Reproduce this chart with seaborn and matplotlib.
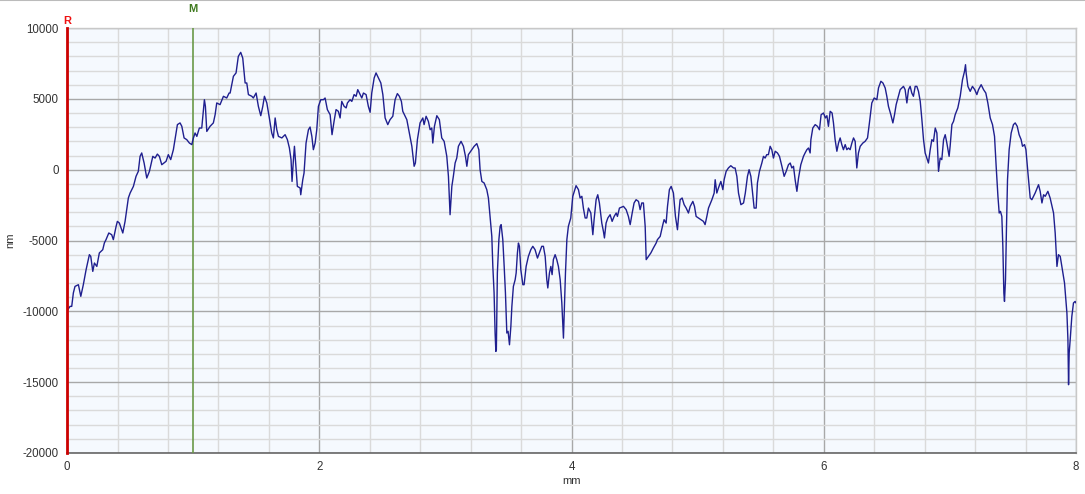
import matplotlib
matplotlib.use("Agg")
import matplotlib.pyplot as plt
from matplotlib.ticker import MultipleLocator
import numpy as np
import pandas as pd
import seaborn as sns

# profile position (mm) and height (nm)
position_mm = [
    0.000, 0.024, 0.037, 0.050, 0.063, 0.090, 0.109, 0.129, 0.151, 0.177, 0.188, 0.204, 0.217, 0.236,
    0.256, 0.283, 0.296, 0.309, 0.331, 0.354, 0.367, 0.389, 0.399, 0.415, 0.442, 0.460, 0.486, 0.500,
    0.526, 0.547, 0.565, 0.579, 0.592, 0.611, 0.632, 0.653, 0.680, 0.698, 0.716, 0.732, 0.751, 0.785,
    0.803, 0.822, 0.843, 0.856, 0.875, 0.896, 0.910, 0.928, 0.949, 0.970, 0.989, 1.002, 1.015, 1.029,
    1.049, 1.068, 1.089, 1.097, 1.108, 1.134, 1.160, 1.174, 1.187, 1.213, 1.240, 1.266, 1.285, 1.293,
    1.319, 1.340, 1.358, 1.377, 1.393, 1.412, 1.425, 1.438, 1.465, 1.477, 1.499, 1.517, 1.536, 1.552,
    1.565, 1.584, 1.604, 1.623, 1.636, 1.650, 1.663, 1.676, 1.703, 1.729, 1.747, 1.763, 1.776, 1.784,
    1.795, 1.803, 1.816, 1.826, 1.848, 1.853, 1.869, 1.879, 1.895, 1.914, 1.927, 1.941, 1.953, 1.967,
    1.980, 1.993, 2.012, 2.033, 2.046, 2.064, 2.086, 2.101, 2.117, 2.133, 2.151, 2.165, 2.178, 2.197,
    2.213, 2.223, 2.244, 2.258, 2.276, 2.292, 2.305, 2.324, 2.337, 2.350, 2.371, 2.389, 2.403, 2.416,
    2.435, 2.450, 2.469, 2.488, 2.504, 2.522, 2.543, 2.561, 2.583, 2.601, 2.619, 2.635, 2.651, 2.662,
    2.694, 2.714, 2.734, 2.752, 2.762, 2.778, 2.799, 2.821, 2.831, 2.847, 2.865, 2.879, 2.892, 2.900,
    2.913, 2.932, 2.952, 2.971, 2.990, 3.011, 3.024, 3.037, 3.051, 3.063, 3.077, 3.090, 3.103, 3.124,
    3.143, 3.159, 3.170, 3.182, 3.209, 3.228, 3.249, 3.265, 3.275, 3.289, 3.307, 3.328, 3.341, 3.354,
    3.368, 3.376, 3.386, 3.394, 3.400, 3.404, 3.412, 3.424, 3.434, 3.442, 3.455, 3.466, 3.476, 3.487,
    3.497, 3.508, 3.519, 3.527, 3.539, 3.553, 3.561, 3.571, 3.579, 3.587, 3.598, 3.614, 3.624, 3.640,
    3.658, 3.677, 3.693, 3.711, 3.730, 3.745, 3.764, 3.777, 3.791, 3.804, 3.812, 3.825, 3.836, 3.846,
    3.856, 3.870, 3.883, 3.896, 3.910, 3.923, 3.936, 3.944, 3.952, 3.963, 3.975, 3.994, 4.010, 4.036,
    4.055, 4.068, 4.082, 4.094, 4.108, 4.121, 4.134, 4.153, 4.169, 4.179, 4.195, 4.208, 4.221, 4.240,
    4.253, 4.261, 4.274, 4.288, 4.306, 4.322, 4.338, 4.354, 4.364, 4.380, 4.412, 4.433, 4.451, 4.465,
    4.481, 4.496, 4.512, 4.531, 4.544, 4.557, 4.570, 4.584, 4.592, 4.610, 4.629, 4.649, 4.671, 4.681,
    4.703, 4.724, 4.734, 4.750, 4.761, 4.776, 4.790, 4.808, 4.824, 4.840, 4.851, 4.861, 4.877, 4.893,
    4.909, 4.927, 4.941, 4.962, 4.975, 4.988, 5.006, 5.025, 5.046, 5.059, 5.073, 5.086, 5.113, 5.131,
    5.139, 5.152, 5.165, 5.184, 5.200, 5.210, 5.226, 5.244, 5.263, 5.284, 5.297, 5.311, 5.324, 5.343,
    5.364, 5.378, 5.395, 5.408, 5.422, 5.438, 5.448, 5.464, 5.474, 5.490, 5.509, 5.522, 5.535, 5.548,
    5.561, 5.575, 5.588, 5.601, 5.615, 5.633, 5.649, 5.668, 5.686, 5.702, 5.720, 5.734, 5.747, 5.760,
    5.773, 5.787, 5.800, 5.818, 5.839, 5.852, 5.866, 5.879, 5.892, 5.898, 5.913, 5.932, 5.950, 5.966,
    5.979, 5.998, 6.013, 6.025, 6.037, 6.051, 6.066, 6.077, 6.090, 6.104, 6.117, 6.130, 6.143, 6.156,
    6.170, 6.183, 6.196, 6.209, 6.223, 6.236, 6.249, 6.262, 6.275, 6.289, 6.310, 6.328, 6.347, 6.362,
    6.381, 6.400, 6.421, 6.434, 6.453, 6.469, 6.487, 6.500, 6.513, 6.532, 6.548, 6.561, 6.574, 6.592,
    6.606, 6.619, 6.632, 6.645, 6.659, 6.672, 6.685, 6.698, 6.711, 6.725, 6.738, 6.751, 6.765, 6.778,
    6.791, 6.804, 6.817, 6.830, 6.844, 6.857, 6.870, 6.884, 6.897, 6.910, 6.923, 6.936, 6.950, 6.963,
    6.976, 6.994, 7.002, 7.016, 7.029, 7.042, 7.063, 7.082, 7.100, 7.116, 7.124, 7.129, 7.143, 7.161,
    7.179, 7.197, 7.214, 7.227, 7.248, 7.267, 7.285, 7.301, 7.320, 7.338, 7.354, 7.367, 7.381, 7.391,
    7.401, 7.412, 7.420, 7.428, 7.433, 7.441, 7.449, 7.457, 7.470, 7.486, 7.504, 7.518, 7.534, 7.549,
    7.565, 7.576, 7.592, 7.603, 7.619, 7.637, 7.650, 7.676, 7.703, 7.716, 7.730, 7.743, 7.756, 7.777,
    7.795, 7.822, 7.835, 7.849, 7.861, 7.875, 7.888, 7.909, 7.928, 7.936, 7.941, 7.946, 7.954, 7.967,
    7.980, 7.993, 8.000,
]
height_nm = [
    -9950, -9650, -9650, -8700, -8240, -8120, -8940, -8120, -7060, -6000, -6120, -7180, -6590, -6830,
    -5880, -5650, -5170, -4940, -4470, -4590, -4940, -4000, -3650, -3770, -4470, -3650, -2000, -1650,
    -1180, -470, -120, 940, 1180, 470, -590, -120, 940, 820, 1100, 940, 350, 590,
    1060, 710, 1410, 2120, 3180, 3300, 3060, 2240, 2120, 1880, 1770, 2240, 2590, 2350,
    2940, 2940, 4940, 4470, 2700, 3060, 3300, 3880, 4710, 4590, 5180, 5060, 5410, 5410,
    6590, 6830, 8000, 8280, 7880, 6120, 6120, 5300, 5180, 5060, 5410, 4470, 3810, 4470,
    5180, 4710, 3650, 2590, 2240, 3650, 2820, 2350, 2240, 2470, 2120, 1530, 710, -830,
    710, 1650, 0, -1180, -1290, -1770, -710, -240, 1880, 2820, 3010, 2350, 1410, 1880,
    2820, 4470, 4940, 4940, 5060, 4240, 3880, 2470, 3410, 4240, 4120, 3650, 4820, 4470,
    4360, 4710, 4940, 4820, 5300, 5180, 5650, 5300, 5060, 5410, 5300, 4470, 4050, 5410,
    6470, 6830, 6470, 6120, 5300, 3650, 3180, 3530, 3770, 4940, 5370, 5180, 4820, 4120,
    3530, 2590, 1650, 240, 470, 2120, 3300, 3650, 3180, 3770, 3410, 2820, 2940, 1880,
    3060, 3810, 3530, 2240, 2000, 940, -470, -3180, -1180, -470, 470, 820, 1650, 2000,
    1650, 940, 240, 1060, 1410, 1650, 1840, 1410, 0, -830, -940, -1410, -2000, -3300,
    -4710, -6830, -8700, -11530, -12830, -12710, -7290, -4940, -4000, -3880, -4940, -6830, -8700, -11530,
    -11410, -12360, -11060, -9650, -8240, -7770, -7290, -5880, -5180, -5410, -7060, -8120, -8120, -6830,
    -6120, -5650, -5410, -5650, -6240, -5880, -5410, -5410, -6120, -7770, -8350, -7290, -6830, -7410,
    -6350, -6000, -6350, -6830, -7770, -9410, -11890, -9650, -7290, -4940, -4000, -3410, -1880, -1130,
    -1410, -2000, -1880, -2710, -3410, -3410, -2710, -3060, -4590, -3530, -2120, -1770, -2350, -3770,
    -4360, -4820, -3770, -3410, -3180, -3650, -3300, -3060, -3300, -2710, -2590, -2820, -3300, -3880,
    -3060, -2350, -2120, -2240, -2820, -2350, -2350, -4000, -6350, -6120, -5880, -5530, -5180, -4940,
    -4710, -3880, -3530, -3770, -2590, -1410, -1180, -1650, -3300, -4240, -3060, -2120, -2000, -2470,
    -2710, -3060, -2590, -2240, -2590, -3300, -3410, -3530, -3650, -3880, -3300, -2710, -2120, -1650,
    -710, -1650, -1290, -830, -1410, -710, -120, 120, 280, 120, 120, -470, -1650, -2470,
    -2350, -1650, -470, 0, -470, -1880, -2710, -2710, -940, -120, 470, 940, 820, 1060,
    1060, 1650, 1410, 820, 1300, 1180, 940, 240, -470, -120, 350, 470, 120, 240,
    -710, -1530, -590, 350, 940, 1180, 1410, 1530, 1180, 2120, 2940, 3180, 3060, 2820,
    3880, 4000, 3650, 3810, 3060, 4120, 4000, 3300, 2120, 1300, 1880, 2240, 1770, 1410,
    1770, 1410, 1530, 1410, 1880, 2240, 2000, 120, 1180, 1650, 1880, 2000, 2240, 3300,
    4710, 5060, 4940, 5770, 6240, 6120, 5770, 5180, 4470, 3880, 3300, 3880, 4590, 5180,
    5650, 5770, 5880, 5650, 4710, 5650, 5880, 5410, 5180, 5880, 5880, 5530, 4820, 3530,
    2120, 1180, 820, 470, 1410, 2120, 2000, 2940, 2590, -120, 820, 710, 2120, 2470,
    1880, 940, 1650, 3180, 3410, 3880, 4360, 5180, 6350, 6940, 7410, 6830, 5880, 5530,
    5880, 5650, 5300, 5650, 6000, 5650, 5410, 4710, 3650, 3180, 2350, 240, -1880, -3060,
    -2940, -3300, -5410, -8700, -9300, -7770, -4000, -710, 1410, 2590, 3180, 3300, 3060, 2470,
    2120, 1650, 1770, 1410, -240, -2000, -2120, -1650, -1060, -1530, -2350, -1770, -1880, -1530,
    -2000, -3060, -4470, -6830, -6000, -6120, -6830, -8000, -10120, -12000, -15180, -12940, -12000, -10360,
    -9410, -9300, -9410,
]

x_ticks = [0, 2, 4, 6, 8]
y_ticks = [-20000, -15000, -10000, -5000, 0, 5000, 10000]
ref_marker_mm = 0.0
meas_marker_mm = 1.0

df = pd.DataFrame({"mm": position_mm, "nm": height_nm})

sns.set_theme(style="white")
plt.rcParams["font.family"] = ["Liberation Sans", "DejaVu Sans"]
plt.rcParams["axes.unicode_minus"] = False

fig = plt.figure(figsize=(10.85, 4.94), dpi=100)
ax = fig.add_axes([0.0618, 0.0830, 0.9299, 0.8603])
ax.set_facecolor("#f5f9fe")

sns.lineplot(data=df, x="mm", y="nm", ax=ax, color="#1f1f8f",
             linewidth=1.0, estimator=None, sort=False, zorder=5)

ax.set_xlim(0, 8)
ax.set_ylim(-20000, 10000)
ax.set_xticks(x_ticks)
ax.set_yticks(y_ticks)
ax.xaxis.set_minor_locator(MultipleLocator(0.4))
ax.yaxis.set_minor_locator(MultipleLocator(1000))
ax.grid(True, which="major", color="#a8a8a8", linewidth=1.0, zorder=0)
ax.grid(True, which="minor", color="#dadada", linewidth=1.0, zorder=0)
ax.set_axisbelow(True)

ax.tick_params(axis="both", which="major", direction="out", length=4, width=1,
               color="#555555", labelsize=8.3, labelcolor="#333333", pad=2)
ax.tick_params(axis="both", which="minor", direction="out", length=3, width=1,
               color="#555555")

for side in ["top", "right"]:
    ax.spines[side].set_color("#c8c8c8")
    ax.spines[side].set_linewidth(1.0)
ax.spines["bottom"].set_color("#666666")
ax.spines["bottom"].set_linewidth(1.2)
ax.spines["left"].set_color("#cc0000")
ax.spines["left"].set_linewidth(2.0)
ax.spines["left"].set_zorder(6)

# measurement cursor M and reference cursor R
ax.axvline(meas_marker_mm, color="#6a9a48", linewidth=1.2, zorder=4)
ax.text(meas_marker_mm, 1.045, "M", transform=ax.get_xaxis_transform(),
        ha="center", va="center", color="#3f7a1f", fontsize=8, fontweight="bold")
ax.text(ref_marker_mm, 1.017, "R", transform=ax.get_xaxis_transform(),
        ha="center", va="center", color="#ee1111", fontsize=8, fontweight="bold")

ax.set_xlabel("mm", fontsize=8, color="#333333", labelpad=2)
ax.set_ylabel("nm", fontsize=8, color="#333333", labelpad=5)

# thin frame line along the top of the image
fig.add_artist(plt.Line2D([0, 1], [0.999, 0.999], color="#bbbbbb", linewidth=1.5,
                          transform=fig.transFigure))

fig.savefig("out.png", dpi=100)
plt.close(fig)
